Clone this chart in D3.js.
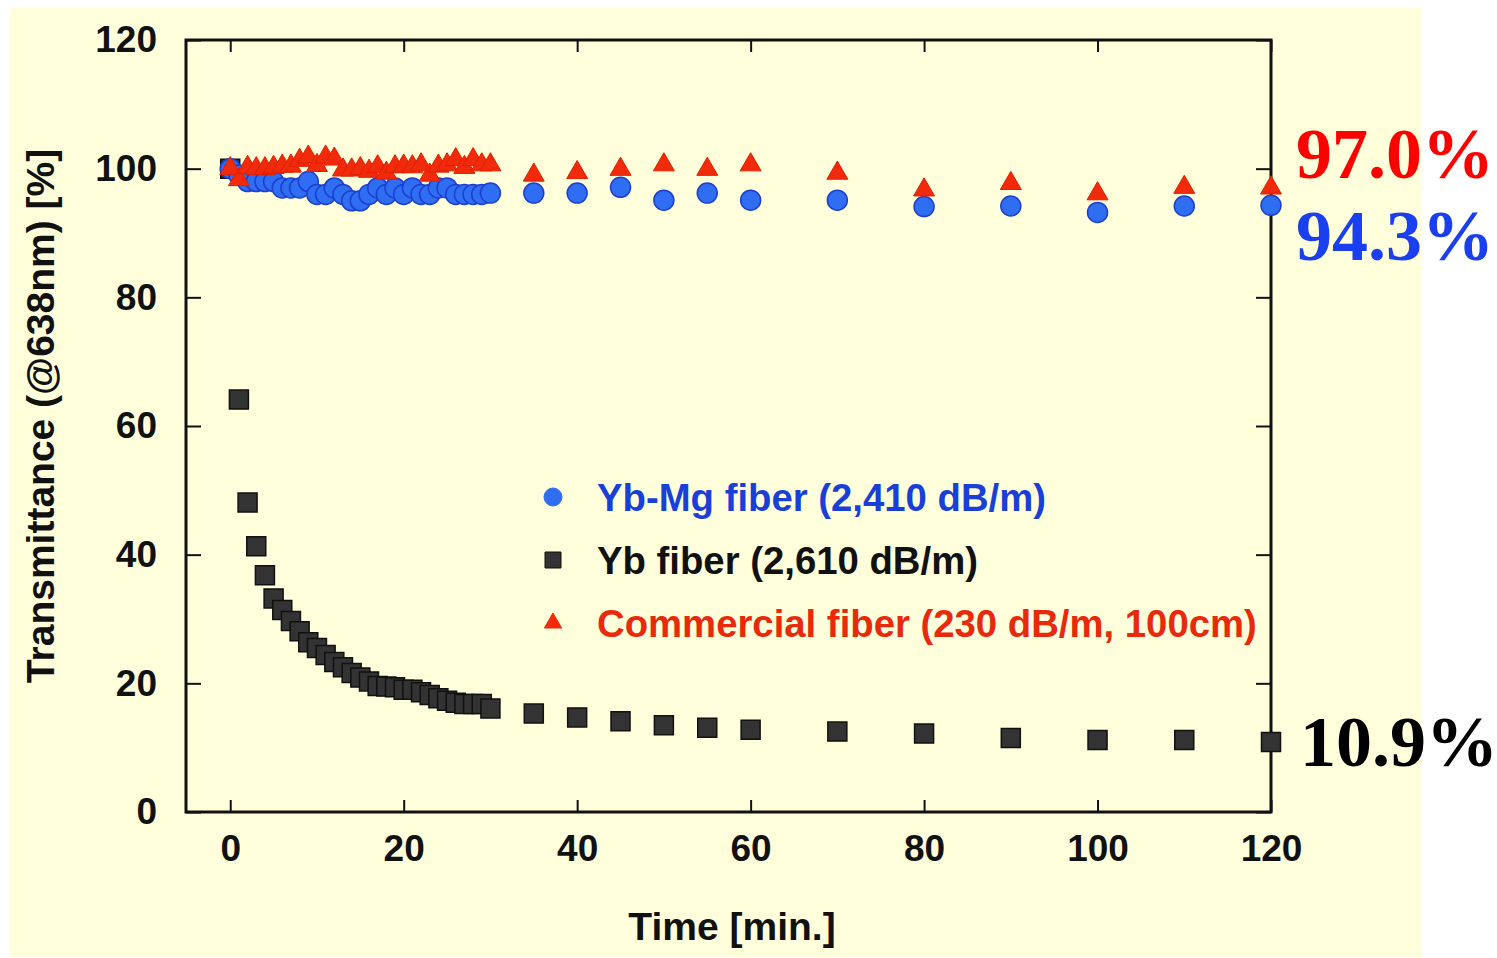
<!DOCTYPE html>
<html>
<head>
<meta charset="utf-8">
<script src="https://cdnjs.cloudflare.com/ajax/libs/d3/7.8.5/d3.min.js"></script>
<style>
  body { margin: 0; background: #fff; }
  svg { display: block; }
</style>
</head>
<body>
<svg id="chart" width="1497" height="958"></svg>
<script>
// data
var timesEarly = d3.range(0, 31); // 0..30 min, every minute
var timesLate = [35, 40, 45, 50, 55, 60, 70, 80, 90, 100, 110, 120];

var ybMgEarly = [100, 99, 98, 98, 98, 98, 97, 97, 97, 98, 96, 96, 97, 96, 95, 95, 96, 97, 96, 97, 96, 97, 96, 96, 97, 97, 96, 96, 96, 96, 96.2];
var ybMgLate = [96.2, 96.2, 97.1, 95.1, 96.2, 95.1, 95.1, 94.1, 94.2, 93.2, 94.2, 94.3];

var ybEarly = [100, 64.1, 48.1, 41.3, 36.8, 33.2, 31.4, 29.7, 28.1, 26.4, 25.5, 24.4, 23.3, 22.5, 21.6, 20.9, 20.3, 19.6, 19.5, 19.4, 19.0, 19.0, 18.6, 18.2, 17.7, 17.3, 17.0, 16.8, 16.8, 16.8, 16.1];
var ybLate = [15.3, 14.7, 14.1, 13.5, 13.1, 12.8, 12.5, 12.2, 11.5, 11.2, 11.2, 10.9];

var commEarly = [100, 98.3, 100.2, 100.0, 100.0, 100.2, 100.4, 100.4, 101.3, 101.8, 100.5, 101.8, 101.5, 99.8, 99.8, 100.0, 99.6, 100.3, 99.3, 100.3, 100.4, 100.3, 100.6, 99.0, 100.4, 100.6, 101.4, 100.2, 101.4, 100.6, 100.6];
var commLate = [99.0, 99.4, 99.9, 100.6, 99.9, 100.6, 99.3, 96.7, 97.7, 96.1, 97.1, 97.0];

var xTicks = [0, 20, 40, 60, 80, 100, 120];
var yTicks = [0, 20, 40, 60, 80, 100, 120];

var seriesNames = ["Yb-Mg fiber (2,410 dB/m)", "Yb fiber (2,610 dB/m)", "Commercial fiber (230 dB/m, 100cm)"];
var finalLabels = ["97.0%", "94.3%", "10.9%"];

(function() {
  var svg = d3.select("#chart");

  // pale yellow slide background
  svg.append("rect")
    .attr("x", 10).attr("y", 8)
    .attr("width", 1411).attr("height", 949)
    .attr("fill", "#ffffdc");

  var pLeft = 186, pRight = 1271, pTop = 40, pBottom = 812;

  var x = d3.scaleLinear().domain([-5.1, 120]).range([pLeft, pRight]);
  var y = d3.scaleLinear().domain([0, 120]).range([pBottom, pTop]);

  var fontFam = "'Liberation Sans', Arial, Helvetica, sans-serif";

  function joinPts(ts, vs) {
    return ts.map(function(t, i) { return { t: t, v: vs[i] }; });
  }
  var ybMg = joinPts(timesEarly, ybMgEarly).concat(joinPts(timesLate, ybMgLate));
  var yb = joinPts(timesEarly, ybEarly).concat(joinPts(timesLate, ybLate));
  var comm = joinPts(timesEarly, commEarly).concat(joinPts(timesLate, commLate));

  // axes with inward ticks
  var gLeft = svg.append("g").attr("transform", "translate(" + pLeft + ",0)")
    .call(d3.axisLeft(y).tickValues(yTicks).tickSize(-15).tickPadding(29));
  var gRight = svg.append("g").attr("transform", "translate(" + pRight + ",0)")
    .call(d3.axisRight(y).tickValues(yTicks).tickSize(-15).tickFormat(""));
  var gBottom = svg.append("g").attr("transform", "translate(0," + pBottom + ")")
    .call(d3.axisBottom(x).tickValues(xTicks).tickSize(-12).tickPadding(23));
  var gTop = svg.append("g").attr("transform", "translate(0," + pTop + ")")
    .call(d3.axisTop(x).tickValues(xTicks).tickSize(-12).tickFormat(""));

  [gLeft, gRight, gBottom, gTop].forEach(function(g) {
    g.select(".domain").remove();
    g.selectAll(".tick line").attr("stroke", "#111").attr("stroke-width", 2);
    g.selectAll(".tick text")
      .attr("fill", "#111")
      .style("font-family", fontFam)
      .style("font-weight", "bold")
      .style("font-size", "37px");
  });

  // frame
  svg.append("rect")
    .attr("x", pLeft).attr("y", pTop)
    .attr("width", pRight - pLeft).attr("height", pBottom - pTop)
    .attr("fill", "none")
    .attr("stroke", "#111")
    .attr("stroke-width", 3);

  // axis titles
  svg.append("text")
    .attr("transform", "translate(54,416) rotate(-90)")
    .attr("text-anchor", "middle")
    .attr("fill", "#111")
    .style("font-family", fontFam)
    .style("font-weight", "bold")
    .style("font-size", "39px")
    .text("Transmittance (@638nm) [%]");

  svg.append("text")
    .attr("x", 732).attr("y", 940)
    .attr("text-anchor", "middle")
    .attr("fill", "#111")
    .style("font-family", fontFam)
    .style("font-weight", "bold")
    .style("font-size", "39px")
    .text("Time [min.]");

  // markers
  var sq = d3.symbol().type(d3.symbolSquare).size(19 * 19);
  var circ = d3.symbol().type(d3.symbolCircle).size(Math.PI * 10 * 10);
  var tri = d3.symbol().type(d3.symbolTriangle).size(190);

  svg.append("g").selectAll("path")
    .data(yb).enter().append("path")
    .attr("d", sq)
    .attr("transform", function(d) { return "translate(" + x(d.t) + "," + y(d.v) + ")"; })
    .attr("fill", "#333333")
    .attr("stroke", "#111")
    .attr("stroke-width", 1.5);

  svg.append("g").selectAll("path")
    .data(ybMg).enter().append("path")
    .attr("d", circ)
    .attr("transform", function(d) { return "translate(" + x(d.t) + "," + y(d.v) + ")"; })
    .attr("fill", "#2f6ef2")
    .attr("stroke", "#1c3fd0")
    .attr("stroke-width", 1.5);

  svg.append("g").selectAll("path")
    .data(comm).enter().append("path")
    .attr("d", tri)
    .attr("transform", function(d) { return "translate(" + x(d.t) + "," + y(d.v) + ")"; })
    .attr("fill", "#f02a0a")
    .attr("stroke", "#e02000")
    .attr("stroke-width", 1);

  // legend
  var legendColors = ["#1a3fd8", "#111111", "#e8290b"];
  var legendSyms = [
    d3.symbol().type(d3.symbolCircle).size(Math.PI * 9 * 9),
    d3.symbol().type(d3.symbolSquare).size(16 * 16),
    d3.symbol().type(d3.symbolTriangle).size(130)
  ];
  var legendFill = ["#2f6ef2", "#333333", "#f02a0a"];
  var legendY = [497, 560, 623];

  var lg = svg.append("g");
  seriesNames.forEach(function(name, i) {
    lg.append("path")
      .attr("d", legendSyms[i])
      .attr("transform", "translate(553," + legendY[i] + ")")
      .attr("fill", legendFill[i])
      .attr("stroke", i == 1 ? "#111" : legendFill[i]);
    lg.append("text")
      .attr("x", 597).attr("y", legendY[i])
      .attr("dy", "0.36em")
      .attr("fill", legendColors[i])
      .style("font-family", fontFam)
      .style("font-weight", "bold")
      .style("font-size", "38.3px")
      .text(name);
  });

  // end values on the right
  var finalColors = ["#ff0000", "#1a3ff0", "#000000"];
  var finalY = [178, 260, 766];
  finalLabels.forEach(function(lbl, i) {
    svg.append("text")
      .attr("x", i == 2 ? 1300 : 1296).attr("y", finalY[i])
      .attr("fill", finalColors[i])
      .style("font-family", "'Liberation Serif', 'Times New Roman', serif")
      .style("font-weight", "bold")
      .style("font-size", "72px")
      .text(lbl);
  });
})();
</script>
</body>
</html>
